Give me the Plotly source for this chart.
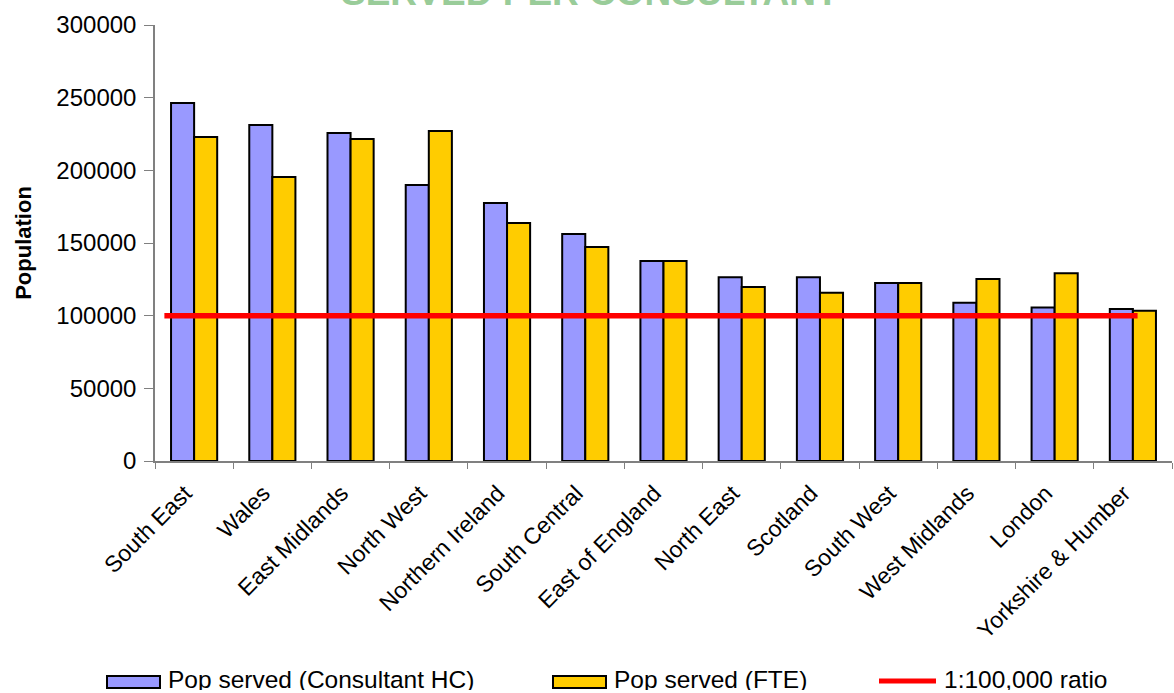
import plotly.graph_objects as go

regions = ["South East", "Wales", "East Midlands", "North West", "Northern Ireland",
           "South Central", "East of England", "North East", "Scotland", "South West",
           "West Midlands", "London", "Yorkshire & Humber"]
pop_hc = [246300, 231200, 225700, 189900, 177500, 156200, 137600,
          126400, 126400, 122500, 108900, 105700, 104600]
pop_fte = [222900, 195400, 221600, 227100, 163800, 147300, 137600,
           119700, 115800, 122500, 125200, 129100, 103400]
ratio_value = 100000
ratio_span = [-0.38, 12.06]

y_ticks = [0, 50000, 100000, 150000, 200000, 250000, 300000]

FONT = "Liberation Sans, Arial, sans-serif"
HC_COLOR = "#9999FF"
FTE_COLOR = "#FFCC00"
RATIO_COLOR = "#FF0000"

W, H = 1174, 693
L, R, T, B = 155, 2, 25, 232
PW, PH = W - L - R, H - T - B


def px_x(px):
    return (px - L) / PW


def px_y(py):
    return (H - B - py) / PH


fig = go.Figure()
fig.add_trace(go.Bar(
    x=regions, y=pop_hc, name="Pop served (Consultant HC)",
    marker=dict(color=HC_COLOR, line=dict(color="#000000", width=2)),
))
fig.add_trace(go.Bar(
    x=regions, y=pop_fte, name="Pop served (FTE)",
    marker=dict(color=FTE_COLOR, line=dict(color="#000000", width=2)),
))
fig.add_trace(go.Scatter(
    x=ratio_span, y=[ratio_value] * len(ratio_span), name="1:100,000 ratio",
    mode="lines", line=dict(color=RATIO_COLOR, width=5.5), xaxis="x2",
))

# legend drawn as keys + labels along the bottom edge
legend_items = [
    ("rect", HC_COLOR, "Pop served (Consultant HC)", 107, 160),
    ("rect", FTE_COLOR, "Pop served (FTE)", 553, 606),
    ("line", RATIO_COLOR, "1:100,000 ratio", 879, 936),
]
shapes = []
annotations = []
leg_cy = 681
for kind, color, label, x0, x1 in legend_items:
    if kind == "rect":
        shapes.append(dict(type="rect", xref="paper", yref="paper",
                           x0=px_x(x0), x1=px_x(x1), y0=px_y(leg_cy + 7), y1=px_y(leg_cy - 5),
                           fillcolor=color, line=dict(color="#000000", width=2)))
    else:
        shapes.append(dict(type="line", xref="paper", yref="paper",
                           x0=px_x(x0), x1=px_x(x1), y0=px_y(leg_cy), y1=px_y(leg_cy),
                           line=dict(color=color, width=5)))
    annotations.append(dict(text=label, xref="paper", yref="paper",
                            x=px_x(x1 + 7), y=px_y(leg_cy - 2), xanchor="left", yanchor="middle",
                            height=22, valign="middle", borderpad=0,
                            showarrow=False, font=dict(size=24.5, family=FONT, color="#000000")))

annotations.append(dict(
    text="<b>SERVED PER CONSULTANT</b>", xref="paper", yref="paper",
    x=px_x(590), y=px_y(15), xanchor="center", yanchor="bottom", showarrow=False,
    font=dict(size=37, family=FONT, color="#99CC99"),
))

fig.update_layout(
    width=W, height=H,
    margin=dict(l=L, r=R, t=T, b=B, autoexpand=False),
    paper_bgcolor="white", plot_bgcolor="white",
    font=dict(family=FONT, color="#000000"),
    barmode="group", bargap=0.41, bargroupgap=0,
    showlegend=False,
    xaxis=dict(
        type="category", range=[-0.5, 12.5],
        showline=True, linecolor="#808080", linewidth=1.5,
        ticks="outside", tickson="boundaries", ticklen=6, tickcolor="#808080",
        tickangle=-45, tickfont=dict(size=23, family=FONT),
        ticklabelstandoff=8, ticklabelshift=-9,
        showgrid=False, zeroline=False, automargin=False,
    ),
    xaxis2=dict(overlaying="x", range=[-0.5, 12.5], visible=False),
    yaxis=dict(
        range=[0, 300000], tickvals=y_ticks, ticktext=[str(v) for v in y_ticks],
        showline=True, linecolor="#808080", linewidth=1.5,
        ticks="outside", ticklen=9, tickcolor="#808080",
        ticklabelstandoff=3,
        tickfont=dict(size=24, family=FONT),
        showgrid=False, zeroline=False, automargin=False,
        title=dict(text="<b>Population</b>", font=dict(size=22, family=FONT), standoff=19),
    ),
    shapes=shapes,
    annotations=annotations,
)

fig.write_html("out.html")
